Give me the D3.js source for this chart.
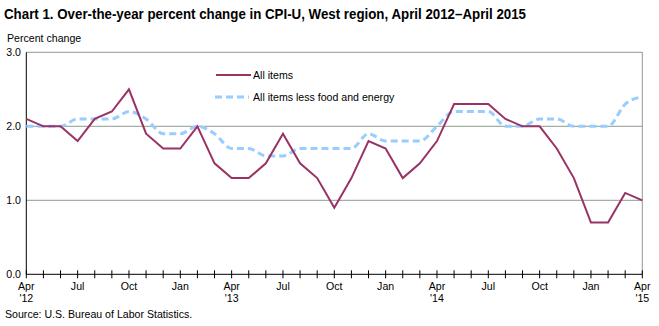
<!DOCTYPE html>
<html lang="en">
<head>
<meta charset="UTF-8">
<title>CPI-U West region</title>
<script src="https://d3js.org/d3.v7.min.js"></script>
<style>
  body { margin: 0; background: #fff; }
  text { font-family: "Liberation Sans", Arial, sans-serif; fill: #000; }
</style>
</head>
<body>
<svg id="chart" width="659" height="326"></svg>
<script>
// data, Apr 2012 .. Apr 2015
const months = d3.range(37);
const allItems = [2.1, 2.0, 2.0, 1.8, 2.1, 2.2, 2.5, 1.9, 1.7, 1.7, 2.0, 1.5,
  1.3, 1.3, 1.5, 1.9, 1.5, 1.3, 0.9, 1.3, 1.8, 1.7, 1.3, 1.5,
  1.8, 2.3, 2.3, 2.3, 2.1, 2.0, 2.0, 1.7, 1.3, 0.7, 0.7, 1.1, 1.0];
const coreItems = [2.0, 2.0, 2.0, 2.1, 2.1, 2.1, 2.2, 2.1, 1.9, 1.9, 2.0, 1.9,
  1.7, 1.7, 1.6, 1.6, 1.7, 1.7, 1.7, 1.7, 1.9, 1.8, 1.8, 1.8,
  2.0, 2.2, 2.2, 2.2, 2.0, 2.0, 2.1, 2.1, 2.0, 2.0, 2.0, 2.3, 2.4];
const monthNames = ["Apr", "Jul", "Oct", "Jan"];
const yearLabels = {0: "'12", 12: "'13", 24: "'14", 36: "'15"};
const yTicks = [0, 1, 2, 3];

const svg = d3.select("#chart");
const plot = { left: 26.3, right: 642.3, top: 52.3, bottom: 274.3 };
const frameColor = "#8c9c8c";
const fs = 10.6;

const x = d3.scaleLinear().domain([0, 36]).range([plot.left, plot.right]);
const y = d3.scaleLinear().domain([0, 3]).range([plot.bottom, plot.top]);

// title
svg.append("text")
  .attr("x", 4).attr("y", 19)
  .attr("font-size", 14).attr("font-weight", "bold")
  .attr("textLength", 522).attr("lengthAdjust", "spacingAndGlyphs")
  .text("Chart 1. Over-the-year percent change in CPI-U, West region, April 2012\u2013April  2015");

svg.append("text")
  .attr("x", 7).attr("y", 42)
  .attr("font-size", fs)
  .text("Percent change");

// gridlines + top/right frame
svg.selectAll("line.grid")
  .data([1, 2, 3])
  .join("line")
  .attr("class", "grid")
  .attr("x1", plot.left).attr("x2", plot.right)
  .attr("y1", d => y(d)).attr("y2", d => y(d))
  .attr("stroke", frameColor).attr("stroke-width", 1);

svg.append("line")
  .attr("x1", plot.right).attr("x2", plot.right)
  .attr("y1", plot.top).attr("y2", plot.bottom)
  .attr("stroke", frameColor);

// y axis
svg.append("line")
  .attr("x1", plot.left).attr("x2", plot.left)
  .attr("y1", plot.top).attr("y2", plot.bottom)
  .attr("stroke", "#000");

svg.selectAll("text.ylab")
  .data(yTicks)
  .join("text")
  .attr("class", "ylab")
  .attr("x", 21).attr("y", d => y(d) + 4)
  .attr("text-anchor", "end")
  .attr("font-size", fs)
  .text(d => d.toFixed(1));

// x axis with crossing ticks
svg.append("line")
  .attr("x1", plot.left).attr("x2", plot.right)
  .attr("y1", plot.bottom).attr("y2", plot.bottom)
  .attr("stroke", "#000");

svg.selectAll("line.xtick")
  .data(months)
  .join("line")
  .attr("class", "xtick")
  .attr("x1", d => x(d)).attr("x2", d => x(d))
  .attr("y1", plot.bottom - 4).attr("y2", plot.bottom + 4)
  .attr("stroke", "#000");

const labelled = months.filter(d => d % 3 === 0);
svg.selectAll("text.xlab")
  .data(labelled)
  .join("text")
  .attr("class", "xlab")
  .attr("x", d => x(d)).attr("y", 290)
  .attr("text-anchor", "middle")
  .attr("font-size", fs)
  .text(d => monthNames[(d / 3) % 4]);

svg.selectAll("text.yr")
  .data(Object.keys(yearLabels).map(Number))
  .join("text")
  .attr("class", "yr")
  .attr("x", d => x(d)).attr("y", 302)
  .attr("text-anchor", "middle")
  .attr("font-size", fs)
  .text(d => yearLabels[d]);

// lines
const coreLine = d3.line()
  .x((d, i) => x(i)).y(d => y(d))
  .curve(d3.curveMonotoneX);
const allLine = d3.line()
  .x((d, i) => x(i)).y(d => y(d));

svg.append("path")
  .datum(coreItems)
  .attr("d", coreLine)
  .attr("fill", "none")
  .attr("stroke", "#99ccff")
  .attr("stroke-width", 3)
  .attr("stroke-dasharray", "7,4");

svg.append("path")
  .datum(allItems)
  .attr("d", allLine)
  .attr("fill", "none")
  .attr("stroke", "#993366")
  .attr("stroke-width", 2);

// legend
svg.append("line")
  .attr("x1", 216).attr("x2", 251).attr("y1", 75).attr("y2", 75)
  .attr("stroke", "#993366").attr("stroke-width", 2);
svg.append("text")
  .attr("x", 253).attr("y", 79).attr("font-size", fs)
  .text("All items");

svg.append("line")
  .attr("x1", 215).attr("x2", 249).attr("y1", 97).attr("y2", 97)
  .attr("stroke", "#99ccff").attr("stroke-width", 3)
  .attr("stroke-dasharray", "7,4");
svg.append("text")
  .attr("x", 253).attr("y", 101).attr("font-size", fs)
  .text("All items less food and energy");

// source
svg.append("text")
  .attr("x", 5).attr("y", 318).attr("font-size", fs)
  .text("Source: U.S. Bureau of Labor Statistics.");
</script>
</body>
</html>
